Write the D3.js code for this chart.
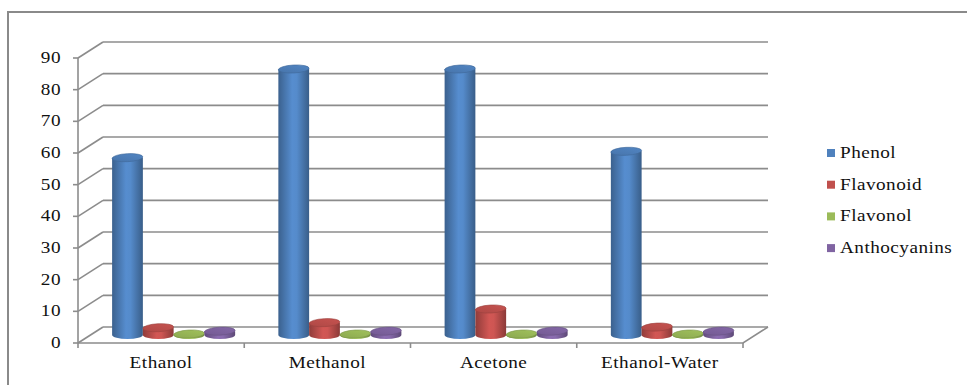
<!DOCTYPE html>
<html><head><meta charset="utf-8">
<script src="https://cdn.jsdelivr.net/npm/d3@7"></script>
<style>body{margin:0;background:#fff}svg{display:block}</style>
</head><body>
<svg id="c" width="967" height="385"></svg>
<script>
const categories = ["Ethanol", "Methanol", "Acetone", "Ethanol-Water"];
const seriesNames = ["Phenol", "Flavonoid", "Flavonol", "Anthocyanins"];
const phenol = [56, 84, 84, 58];
const flavonoid = [2.3, 3.9, 8.2, 2.5];
const flavonol = [0.3, 0.3, 0.3, 0.3];
const anthocyanins = [1.2, 1.2, 1.2, 1.2];
const yTicks = [0, 10, 20, 30, 40, 50, 60, 70, 80, 90];
const colors = ["#4F81BD", "#C0504D", "#9BBB59", "#8064A2"];

const seriesValues = [phenol, flavonoid, flavonol, anthocyanins];
const svg = d3.select("#c");
const font = "'Liberation Serif','Times New Roman',serif";
const DX = 25, DY = -16;          // depth offset of back wall
const grid = "#8c8c8c";
const SX = 1.2;                   // horizontal text stretch

function label(sel, px, py, txt, anchor) {
  return sel.append("text")
    .attr("transform", `translate(${px},${py}) scale(${SX},1)`)
    .attr("text-anchor", anchor).attr("font-family", font)
    .attr("font-size", 16).attr("letter-spacing", 0.4).attr("fill", "#111")
    .text(txt);
}

const x = d3.scaleBand().domain(categories).range([78, 743]);
const x1 = d3.scaleBand().domain(seriesNames)
  .range([x.bandwidth() * 0.13, x.bandwidth() * 0.87]);
const y = d3.scaleLinear().domain([0, 90]).range([343, 58]);

// outer frame
svg.append("path").attr("d", "M8,385V12H967").attr("fill", "none")
  .attr("stroke", "#8a8a8a").attr("stroke-width", 2);

// gridlines: back wall + left wall diagonals
const g = svg.append("g");
yTicks.forEach(t => {
  const yy = y(t);
  g.append("line").attr("x1", x.range()[0] + DX).attr("x2", x.range()[1] + DX)
    .attr("y1", yy + DY).attr("y2", yy + DY)
    .attr("stroke", grid).attr("stroke-width", 1.6);
  g.append("line").attr("x1", x.range()[0]).attr("x2", x.range()[0] + DX)
    .attr("y1", yy).attr("y2", yy + DY)
    .attr("stroke", grid).attr("stroke-width", 1.6);
  g.append("line").attr("x1", x.range()[0] - 5).attr("x2", x.range()[0])
    .attr("y1", yy).attr("y2", yy)
    .attr("stroke", grid).attr("stroke-width", 1.6);
  label(g, 61, yy + 5, t, "end");
});
// vertical axis
g.append("line").attr("x1", 78).attr("x2", 78).attr("y1", y(90)).attr("y2", y(0))
  .attr("stroke", grid).attr("stroke-width", 1.6);
// floor front edge and right edge
g.append("path")
  .attr("d", `M${x.range()[0]},${y(0)}H${x.range()[1]}l${DX},${DY}`)
  .attr("fill", "none").attr("stroke", grid).attr("stroke-width", 1.6);
// category ticks
[...categories.map(c => x(c)), x.range()[1]].forEach(px => {
  g.append("line").attr("x1", px).attr("x2", px).attr("y1", y(0)).attr("y2", y(0) + 5)
    .attr("stroke", grid).attr("stroke-width", 1.6);
});
categories.forEach(c => {
  label(g, x(c) + x.bandwidth() / 2, 368, c, "middle");
});

// gradients
const defs = svg.append("defs");
colors.forEach((col, i) => {
  const c = d3.color(col);
  const gr = defs.append("linearGradient").attr("id", "side" + i)
    .attr("x1", 0).attr("x2", 1).attr("y1", 0).attr("y2", 0);
  gr.append("stop").attr("offset", "0%").attr("stop-color", c.darker(0.8));
  gr.append("stop").attr("offset", "45%").attr("stop-color", c.brighter(0.25));
  gr.append("stop").attr("offset", "60%").attr("stop-color", c.brighter(0.2));
  gr.append("stop").attr("offset", "100%").attr("stop-color", c.darker(0.9));
  const gt = defs.append("linearGradient").attr("id", "top" + i)
    .attr("x1", 0).attr("x2", 1).attr("y1", 1).attr("y2", 0);
  gt.append("stop").attr("offset", "0%").attr("stop-color", c.darker(0.3));
  gt.append("stop").attr("offset", "100%").attr("stop-color", c.brighter(0.1));
});

// cylinders at mid depth
const bars = svg.append("g");
categories.forEach((cat, ci) => {
  seriesNames.forEach((s, si) => {
    const v = seriesValues[si][ci];
    const w = x1.bandwidth();
    const left = x(cat) + x1(s) + DX / 2;
    const cx = left + w / 2;
    const yb = y(0) + DY / 2;
    const yt = y(v) + DY / 2;
    const ry = 4;
    const b = bars.append("g");
    b.append("path")
      .attr("d", `M${left},${yt}V${yb}A${w / 2},${ry} 0 0 0 ${left + w},${yb}V${yt}Z`)
      .attr("fill", `url(#side${si})`);
    b.append("ellipse").attr("cx", cx).attr("cy", yt).attr("rx", w / 2).attr("ry", ry)
      .attr("transform", `rotate(-3,${cx},${yt})`)
      .attr("fill", `url(#top${si})`)
      .attr("stroke", d3.color(colors[si]).darker(0.6)).attr("stroke-width", 0.6);
  });
});

// legend
const lg = svg.append("g");
seriesNames.forEach((s, i) => {
  const yy = 153 + i * 31.7;
  lg.append("rect").attr("x", 827).attr("y", yy - 4).attr("width", 8).attr("height", 8)
    .attr("fill", colors[i]);
  label(lg, 840, yy + 5, s, "start");
});
</script>
</body></html>
